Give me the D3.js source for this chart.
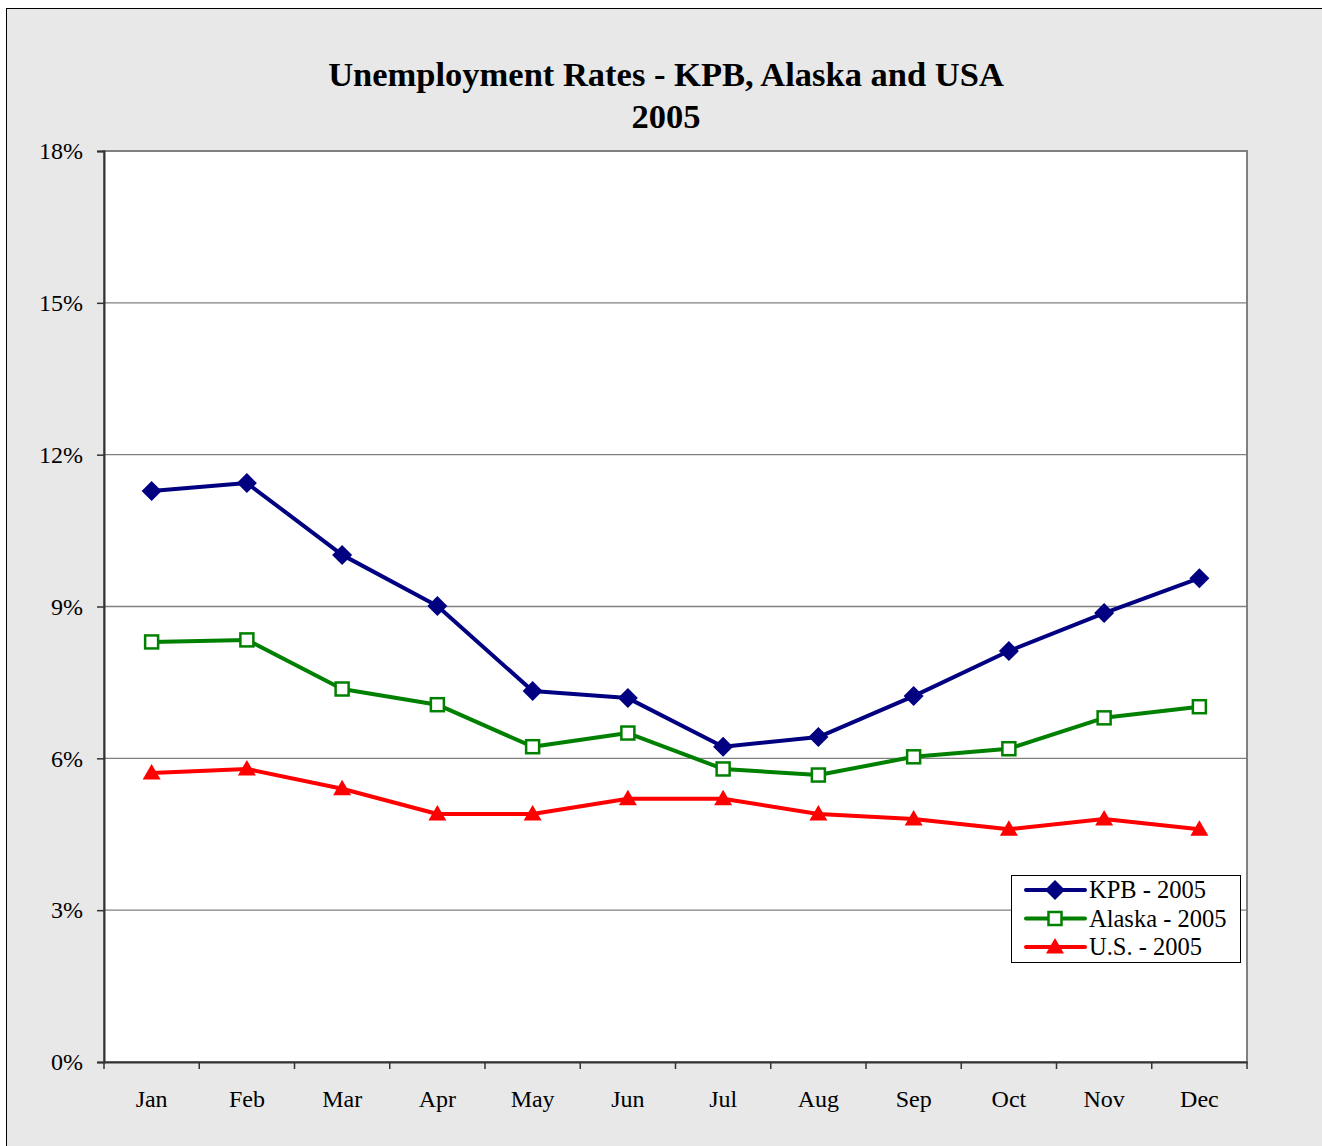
<!DOCTYPE html>
<html><head><meta charset="utf-8">
<script src="https://cdn.jsdelivr.net/npm/d3@7"></script>
<style>body{margin:0;background:#fff}svg{display:block}text{font-family:"Liberation Serif","Times New Roman",serif}</style>
</head><body><svg id="c" width="1322" height="1146"></svg>
<script>
const months = ["Jan","Feb","Mar","Apr","May","Jun","Jul","Aug","Sep","Oct","Nov","Dec"];
const kpb = [11.28,11.44,10.02,9.01,7.33,7.19,6.23,6.42,7.23,8.12,8.87,9.56];
const alaska = [8.30,8.34,7.37,7.06,6.23,6.50,5.79,5.67,6.03,6.19,6.80,7.02];
const usa = [5.71,5.79,5.40,4.90,4.90,5.20,5.20,4.90,4.80,4.60,4.80,4.60];
const yTicks = [0,3,6,9,12,15,18];
const seriesNames = ["KPB - 2005","Alaska - 2005","U.S. - 2005"];
const titleLines = ["Unemployment Rates - KPB, Alaska and USA","2005"];

const svg = d3.select("#c");
svg.append("rect").attr("x",6.5).attr("y",8.5).attr("width",1330).attr("height",1150)
  .attr("fill","#e8e8e8").attr("stroke","#000").attr("stroke-width",1);

const L=104,R=1247,T=151,B=1062;
const x = d3.scaleBand().domain(months).range([L,R]);
const y = d3.scaleLinear().domain([0,18]).range([B,T]);

svg.append("rect").attr("x",L).attr("y",T).attr("width",R-L).attr("height",B-T)
  .attr("fill","#fff").attr("stroke","#808080").attr("stroke-width",2);

// gridlines
svg.append("g").selectAll("line").data(yTicks.filter(d=>d>0&&d<18)).join("line")
  .attr("x1",L).attr("x2",R).attr("y1",d=>y(d)).attr("y2",d=>y(d))
  .attr("stroke","#808080").attr("stroke-width",1.3);

// y axis
const ya = svg.append("g").attr("transform",`translate(${L},0)`)
  .call(d3.axisLeft(y).tickValues(yTicks).tickFormat(d=>d+"%").tickSize(7).tickPadding(14));
ya.select(".domain").attr("stroke","#333").attr("stroke-width",2);
ya.selectAll(".tick line").attr("stroke","#333").attr("stroke-width",1.5);
ya.selectAll(".tick text").attr("font-size",24).attr("fill","#000").attr("font-family","Liberation Serif");

// x axis
const xa = svg.append("g").attr("transform",`translate(0,${B})`)
  .call(d3.axisBottom(x).tickSize(0).tickPadding(28));
xa.select(".domain").attr("stroke","#333").attr("stroke-width",2);
xa.selectAll(".tick text").attr("font-size",24).attr("fill","#000").attr("font-family","Liberation Serif");
// boundary ticks between categories
xa.selectAll("line.bt").data(d3.range(13)).join("line").attr("class","bt")
  .attr("x1",i=>L+i*x.step()).attr("x2",i=>L+i*x.step()).attr("y1",0).attr("y2",7)
  .attr("stroke","#333").attr("stroke-width",1.5);

// title
svg.append("g").selectAll("text").data(titleLines).join("text")
  .attr("x",666).attr("y",(d,i)=>86+i*42).attr("text-anchor","middle")
  .attr("font-size",34.5).attr("font-weight","bold").text(d=>d);

const cx = m => x(m)+x.bandwidth()/2;
const series = [
  {name:seriesNames[0], vals:kpb, color:"#000080", marker:"diamond"},
  {name:seriesNames[1], vals:alaska, color:"#008000", marker:"square"},
  {name:seriesNames[2], vals:usa, color:"#ff0000", marker:"triangle"}
];
const line = d3.line().x((d,i)=>cx(months[i])).y(d=>y(d));

function drawMarker(g, type, color){
  if(type==="diamond") g.append("path").attr("d","M0,-10L10,0L0,10L-10,0Z").attr("fill",color);
  else if(type==="square") g.append("rect").attr("x",-6.5).attr("y",-6.5).attr("width",13).attr("height",13).attr("fill","#fff").attr("stroke",color).attr("stroke-width",2.5);
  else g.append("path").attr("d","M0,-9L9,6.5L-9,6.5Z").attr("fill",color);
}

series.forEach(s=>{
  svg.append("path").datum(s.vals).attr("d",line).attr("fill","none")
    .attr("stroke",s.color).attr("stroke-width",4).attr("stroke-linejoin","round");
  s.vals.forEach((v,i)=>{
    const g = svg.append("g").attr("transform",`translate(${cx(months[i])},${y(v)})`);
    drawMarker(g,s.marker,s.color);
  });
});

// legend
const lg = svg.append("g").attr("transform","translate(1011,875)");
lg.append("rect").attr("x",0.5).attr("y",0.5).attr("width",229).attr("height",87)
  .attr("fill","#fff").attr("stroke","#000").attr("stroke-width",1);
series.forEach((s,i)=>{
  const yy = 15+i*28.5;
  lg.append("line").attr("x1",15).attr("x2",74).attr("y1",yy).attr("y2",yy)
    .attr("stroke",s.color).attr("stroke-width",4).attr("stroke-linecap","round");
  const g = lg.append("g").attr("transform",`translate(44,${yy})`);
  drawMarker(g,s.marker,s.color);
  lg.append("text").attr("x",78).attr("y",yy+8).attr("font-size",24.5).text(s.name);
});
</script></body></html>
